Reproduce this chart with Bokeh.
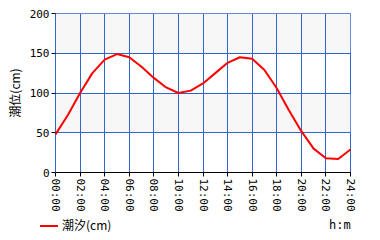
import math
from bokeh.plotting import figure
from bokeh.layouts import column
from bokeh.models import FixedTicker, Range1d, BoxAnnotation, Div
from bokeh.embed import file_html
from bokeh.resources import INLINE

hours = list(range(0, 25))
tide = [48, 72, 100, 125, 142, 149, 145, 133, 119, 107, 100, 103, 112, 125, 138,
        145, 143, 129, 106, 78, 52, 30, 18, 17, 29]
x_ticks = list(range(0, 25, 2))
x_tick_labels = ["%02d:00" % h for h in x_ticks]
y_ticks = [0, 50, 100, 150, 200]
band_bottoms = [50, 150]
band_tops = [100, 200]
series_name = "潮汐(cm)"
y_title = "潮位(cm)"
x_title = "h:m"

grid_color = "#3366cc"
line_color = "#ff0000"

p = figure(width=380, height=214, output_backend="svg", toolbar_location=None,
           x_range=Range1d(0, 24), y_range=Range1d(0, 200),
           min_border_left=55, min_border_right=30, min_border_top=13, min_border_bottom=42)
p.background_fill_color = "white"
p.border_fill_color = "white"
p.outline_line_color = grid_color
p.outline_line_width = 1

for b, t in zip(band_bottoms, band_tops):
    p.add_layout(BoxAnnotation(bottom=b, top=t, fill_color="#f7f7f7", fill_alpha=1,
                               line_color=None, level="underlay"))

p.xgrid.ticker = FixedTicker(ticks=x_ticks)
p.ygrid.ticker = FixedTicker(ticks=y_ticks)
p.xgrid.grid_line_color = grid_color
p.ygrid.grid_line_color = grid_color
p.xgrid.level = "glyph"
p.ygrid.level = "glyph"

r = p.line(hours, tide, line_color=line_color, line_width=2, level="overlay")

p.xaxis.ticker = FixedTicker(ticks=x_ticks)
p.xaxis.major_label_overrides = {t: l for t, l in zip(x_ticks, x_tick_labels)}
p.xaxis.major_label_orientation = -math.pi / 2
p.yaxis.ticker = FixedTicker(ticks=y_ticks)
p.yaxis.axis_label = y_title
for ax in (p.xaxis[0], p.yaxis[0]):
    ax.minor_tick_line_color = None
    ax.major_tick_line_color = "black"
    ax.major_tick_in = 0
    ax.major_tick_out = 4
    ax.major_label_text_font = "DejaVu Sans Mono"
    ax.major_label_text_font_size = "11px"
    ax.major_label_text_color = "black"
    ax.major_label_standoff = 2
p.xaxis.axis_line_color = "black"
p.yaxis.axis_line_color = grid_color
p.yaxis.axis_label_text_font = "Noto Sans CJK JP"
p.yaxis.axis_label_text_font_size = "12px"
p.yaxis.axis_label_text_font_style = "normal"
p.yaxis.axis_label_text_color = "black"
p.yaxis.axis_label_standoff = 4

legend_html = (
    '<div style="position:relative;width:380px;height:26px;'
    'font-family:\'Noto Sans CJK JP\';font-size:12px;color:black;line-height:14px;">'
    '<span style="position:absolute;left:40px;top:11px;width:18px;height:2px;'
    'background:%s;"></span>'
    '<span style="position:absolute;left:62px;top:4px;white-space:nowrap;">%s</span>'
    '<span style="position:absolute;left:329px;top:4px;'
    'font-family:\'DejaVu Sans Mono\';">%s</span>'
    '</div>' % (line_color, series_name, x_title)
)
strip = Div(text=legend_html, width=380, height=26, margin=0)

open("out.html", "w").write(file_html(column(p, strip, spacing=0), INLINE))
